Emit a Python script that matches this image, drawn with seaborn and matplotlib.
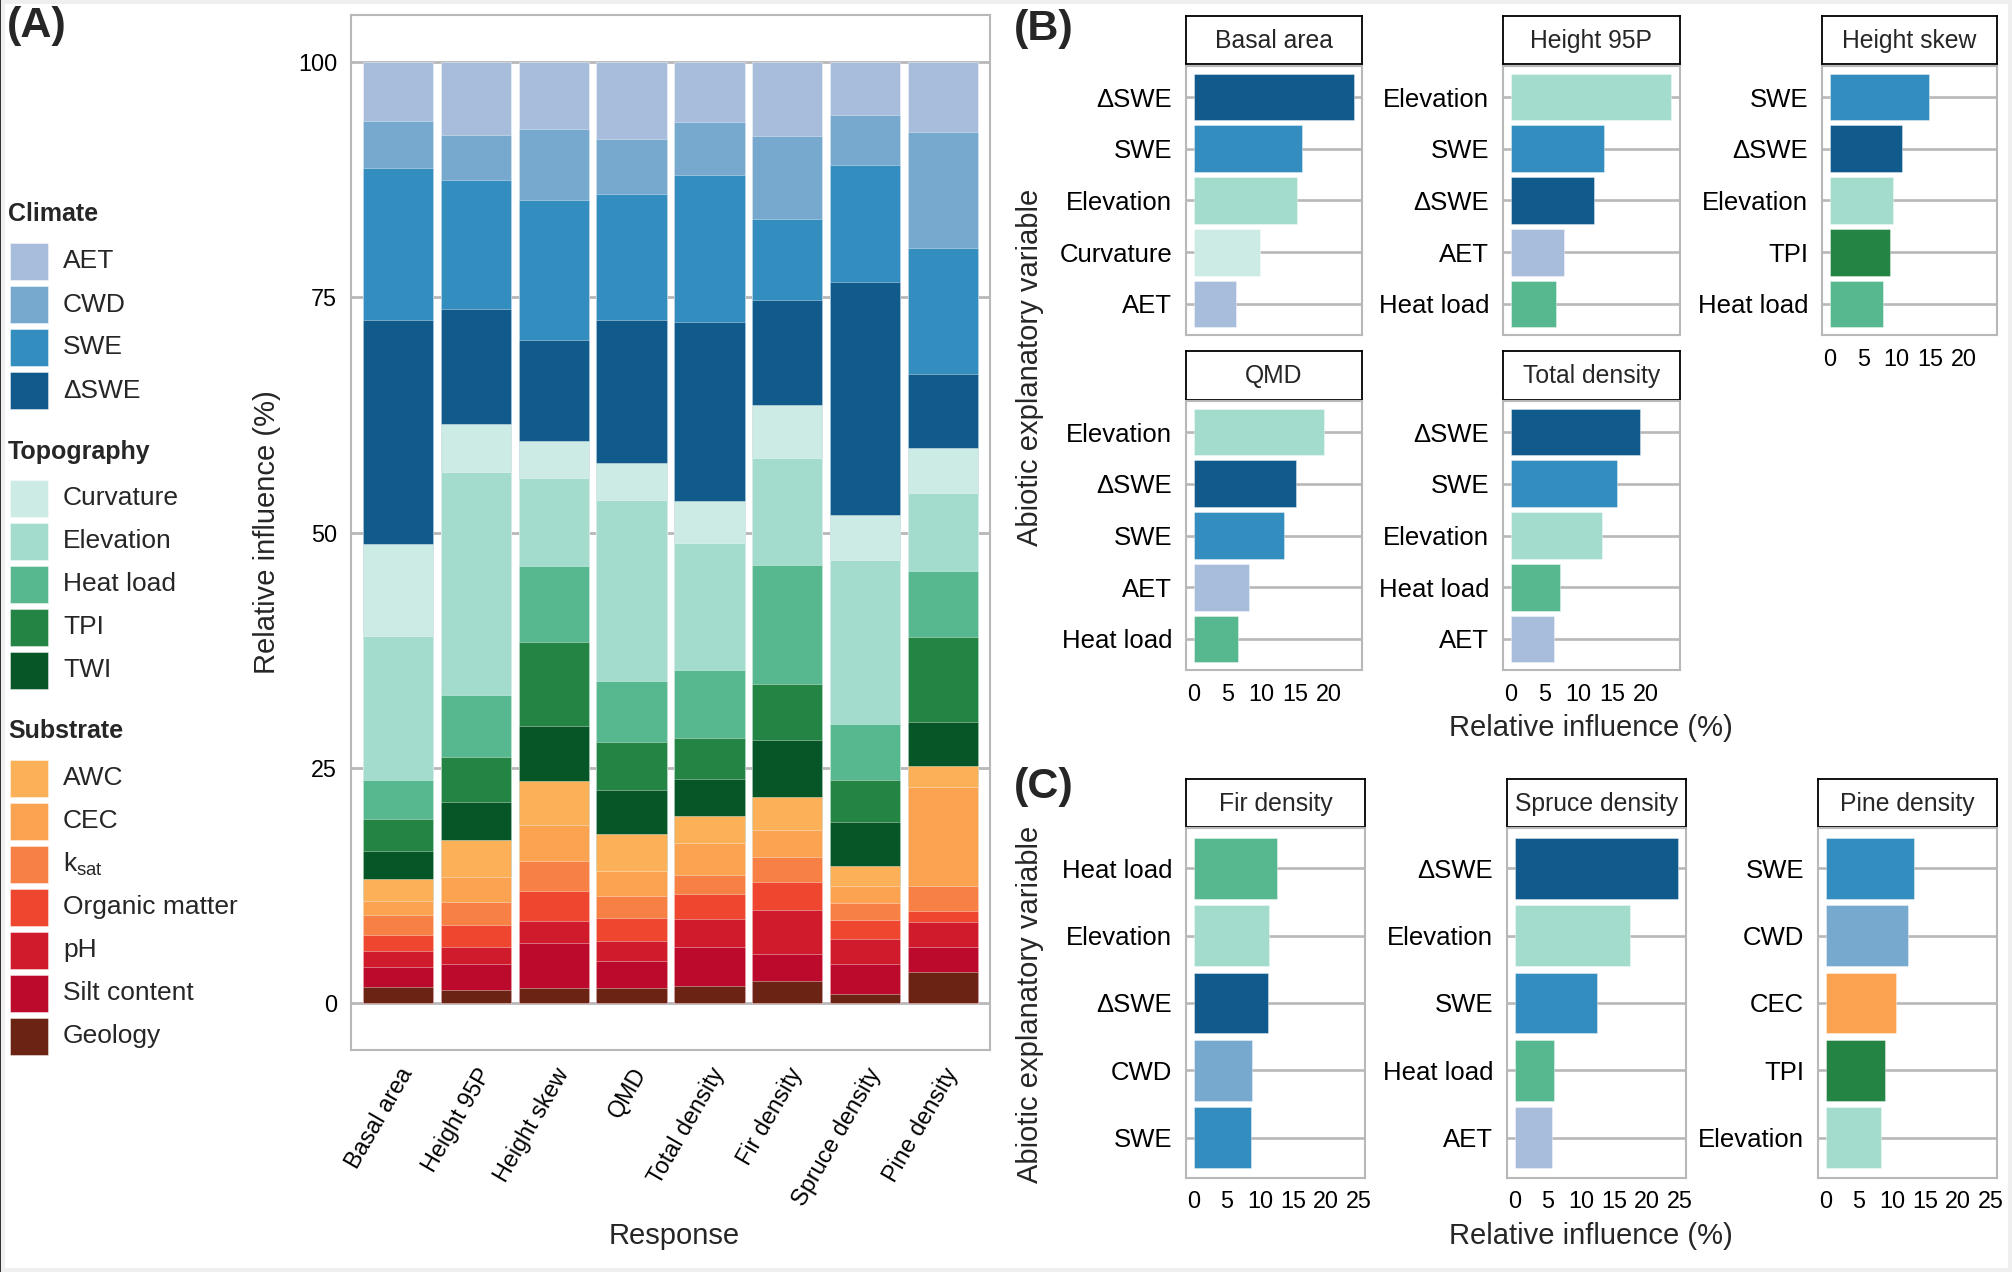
import numpy as np
import pandas as pd
import matplotlib
matplotlib.use("Agg")
import matplotlib.pyplot as plt
import seaborn as sns
from matplotlib.patches import Rectangle

# ---------------- data ----------------
responses = ["Basal area", "Height 95P", "Height skew", "QMD",
             "Total density", "Fir density", "Spruce density", "Pine density"]

variables = ["AET", "CWD", "SWE", "ΔSWE",
             "Curvature", "Elevation", "Heat load", "TPI", "TWI",
             "AWC", "CEC", "ksat", "Organic matter", "pH", "Silt content", "Geology"]
var_labels = {"ksat": r"k$_{\mathrm{sat}}$"}
groups = {"Climate": ["AET", "CWD", "SWE", "ΔSWE"],
          "Topography": ["Curvature", "Elevation", "Heat load", "TPI", "TWI"],
          "Substrate": ["AWC", "CEC", "ksat", "Organic matter", "pH", "Silt content", "Geology"]}
colors = ["#a8bddb", "#76a9cd", "#338dbe", "#105b8c",
          "#cdebe5", "#a3dbcd", "#57b88f", "#238443", "#075628",
          "#fcb058", "#fba350", "#f78144", "#ee462f", "#cf1b2b", "#bb0a2c", "#6b2414"]

# relative influence (%) of each variable, one value per response (same order as responses)
aet       = [6.3, 7.8, 7.1, 8.2, 6.4, 7.9, 5.6, 7.4]
cwd       = [5.0, 4.7, 7.6, 5.8, 5.6, 8.8, 5.3, 12.4]
swe       = [16.1, 13.7, 14.8, 13.4, 15.6, 8.6, 12.5, 13.4]
dswe      = [23.8, 12.3, 10.8, 15.2, 19.1, 11.2, 24.7, 7.8]
curvature = [9.8, 5.1, 3.9, 3.9, 4.4, 5.6, 4.8, 4.8]
elevation = [15.3, 23.7, 9.4, 19.3, 13.5, 11.4, 17.5, 8.3]
heat_load = [4.2, 6.6, 8.0, 6.5, 7.2, 12.6, 5.9, 7.0]
tpi       = [3.4, 4.7, 9.0, 5.1, 4.4, 6.0, 4.5, 9.0]
twi       = [2.9, 4.1, 5.8, 4.6, 3.9, 6.0, 4.6, 4.7]
awc       = [2.4, 3.9, 4.7, 4.0, 2.9, 3.5, 2.2, 2.2]
cec       = [1.5, 2.7, 3.8, 2.6, 3.4, 2.9, 1.8, 10.6]
ksat      = [2.1, 2.4, 3.2, 2.4, 2.0, 2.6, 1.8, 2.6]
organic   = [1.7, 2.3, 3.2, 2.4, 2.7, 3.0, 2.0, 1.2]
ph        = [1.7, 1.9, 2.3, 2.1, 2.9, 4.7, 2.7, 2.6]
silt      = [2.1, 2.7, 4.8, 2.9, 4.2, 2.9, 3.1, 2.7]
geology   = [1.7, 1.4, 1.6, 1.6, 1.8, 2.3, 1.0, 3.3]

series = [aet, cwd, swe, dswe, curvature, elevation, heat_load, tpi, twi,
          awc, cec, ksat, organic, ph, silt, geology]

panel_b = ["Basal area", "Height 95P", "Height skew", "QMD", "Total density"]
panel_c = ["Fir density", "Spruce density", "Pine density"]

wide = pd.DataFrame(dict(zip(variables, series)), index=responses)
long = wide.reset_index(names="Response").melt(id_vars="Response",
                                               var_name="Variable", value_name="value")
palette = dict(zip(variables, colors))

# ---------------- style ----------------
sns.set_style("white")
plt.rcParams["font.family"] = ["Liberation Sans", "DejaVu Sans"]
plt.rcParams["mathtext.fontset"] = "custom"
plt.rcParams["mathtext.rm"] = "Liberation Sans"
plt.rcParams["mathtext.it"] = "Liberation Sans:italic"

GRID = "#b8b8b8"
W, H = 2012, 1272
fig = plt.figure(figsize=(W / 100, H / 100), dpi=100, facecolor="#efefef")

ov = fig.add_axes([0, 0, 1, 1])
ov.set_xlim(0, W)
ov.set_ylim(H, 0)
ov.axis("off")
ov.add_patch(Rectangle((5, 4), 2003, 1264, facecolor="white", edgecolor="none"))
ov.add_patch(Rectangle((0, 0), 1.5, H, facecolor="#333333", edgecolor="none"))


def px_axes(x0, y0, x1, y1):
    return fig.add_axes([x0 / W, 1 - y1 / H, (x1 - x0) / W, (y1 - y0) / H])


def style_spines(ax, color=GRID, lw=1.5):
    for s in ax.spines.values():
        s.set_visible(True)
        s.set_color(color)
        s.set_linewidth(lw)


# ---------------- panel A ----------------
axA = px_axes(351, 15, 990, 1050)
axA.set_axisbelow(True)
axA.grid(axis="y", color=GRID, lw=2.0)
axA.grid(axis="x", visible=False)
cum = wide[variables[::-1]].cumsum(axis=1)  # bottom-up cumulative
for var in variables:  # draw tallest (top segment) first, overlay lower ones
    dfc = pd.DataFrame({"Response": responses, "top": cum[var].values})
    sns.barplot(data=dfc, x="Response", y="top", order=responses, color=palette[var],
                saturation=1, width=0.9, edgecolor=(1, 1, 1, 0.45), linewidth=0.6,
                ax=axA, errorbar=None)
axA.set_xlim(-0.6, 7.6)
axA.set_ylim(-5, 105)
axA.set_yticks([0, 25, 50, 75, 100])
axA.tick_params(axis="both", colors=GRID, labelcolor="black", labelsize=16.8,
                length=6.5, width=1.5)
axA.set_xticks(range(len(responses)))
axA.set_xticklabels(responses, rotation=60, ha="right", va="top", rotation_mode="anchor")
style_spines(axA)
axA.set_ylabel("Relative influence (%)", fontsize=21, va="center", ha="center")
axA.yaxis.set_label_coords((267 - 351) / 639, 0.5)
axA.set_xlabel("Response", fontsize=21, va="center", ha="center")
axA.xaxis.set_label_coords(0.505, (1050 - 1236) / 1035)

# legend for panel A
ov.text(7, 26, "(A)", fontsize=31, fontweight="bold", ha="left", va="center")
heads_y = {"Climate": 214, "Topography": 452, "Substrate": 731}
items_y = {"Climate": [261.5, 304.5, 347.5, 390.5],
           "Topography": [498, 541, 584, 627, 670],
           "Substrate": [778, 821, 864, 907, 950, 993, 1036]}
for g, vs in groups.items():
    ov.text(8, heads_y[g], g, fontsize=18, fontweight="bold", ha="left", va="center")
    for v, yy in zip(vs, items_y[g]):
        ov.add_patch(Rectangle((10, yy - 18.5), 38, 37, facecolor=palette[v],
                               edgecolor=(1, 1, 1, 0.5), lw=0.6))
        ov.text(63, yy, var_labels.get(v, v), fontsize=19, ha="left", va="center")


# ---------------- panels B and C ----------------
def facet(resp, x0, x1, sy0, sy1, py0, py1, xmax, xticks, show_x):
    st = px_axes(x0, sy0, x1, sy1)
    st.set_xticks([])
    st.set_yticks([])
    style_spines(st, color="black", lw=1.3)
    st.text(0.5, 0.48, resp, ha="center", va="center", fontsize=17.8, transform=st.transAxes)

    ax = px_axes(x0, py0, x1, py1)
    sub = long[long.Response == resp].nlargest(5, "value")
    order = list(sub.Variable)
    ax.set_axisbelow(True)
    sns.barplot(data=sub, y="Variable", x="value", hue="Variable", order=order,
                hue_order=order, palette=palette, orient="h", width=0.9, saturation=1,
                legend=False, edgecolor=(1, 1, 1, 0.45), linewidth=0.6, ax=ax,
                errorbar=None)
    ax.grid(axis="y", color=GRID, lw=1.9)
    ax.grid(axis="x", visible=False)
    ax.set_ylim(4.6, -0.6)
    ax.set_xlim(-0.05 * xmax, 1.05 * xmax)
    ax.set_yticks(range(5))
    ax.set_yticklabels([var_labels.get(v, v) for v in order])
    ax.set_xticks(xticks)
    ax.tick_params(axis="y", colors=GRID, labelcolor="black", labelsize=18.5,
                   length=5, width=1.5, pad=5)
    ax.tick_params(axis="x", colors=GRID, labelcolor="black", labelsize=16.8,
                   length=5, width=1.5, pad=4)
    if not show_x:
        ax.tick_params(axis="x", length=0, labelbottom=False)
    ax.set_xlabel("")
    ax.set_ylabel("")
    style_spines(ax)
    return ax


maxB = long[long.Response.isin(panel_b)].value.max()
maxC = long[long.Response.isin(panel_c)].value.max()
ticksB = [0, 5, 10, 15, 20]
ticksC = [0, 5, 10, 15, 20, 25]

colsB = [(1186, 1362), (1503, 1680), (1822, 1997)]
rowsB = [((16, 64), (66, 335)), ((351, 400), (401, 670))]
axesB = {}
for i, resp in enumerate(panel_b):
    r, c = divmod(i, 3)
    (sy0, sy1), (py0, py1) = rowsB[r]
    x0, x1 = colsB[c]
    show_x = (r == 1) or (c == 2)
    axesB[resp] = facet(resp, x0, x1, sy0, sy1, py0, py1, maxB, ticksB, show_x)

colsC = [(1186, 1365), (1507, 1686), (1818, 1997)]
axesC = {}
for i, resp in enumerate(panel_c):
    x0, x1 = colsC[i]
    axesC[resp] = facet(resp, x0, x1, 779, 827, 828, 1178, maxC, ticksC, True)

# titles for B / C
aB = axesB["Basal area"]
aB.set_ylabel("Abiotic explanatory variable", fontsize=21, va="center", ha="center")
aB.yaxis.set_label_coords((1030 - 1186) / 176, (335 - 367) / 269)
aB2 = axesB["Total density"]
aB2.set_xlabel("Relative influence (%)", fontsize=21, va="center", ha="center")
aB2.xaxis.set_label_coords((1591 - 1503) / 177, (670 - 728) / 269)

aC = axesC["Fir density"]
aC.set_ylabel("Abiotic explanatory variable", fontsize=21, va="center", ha="center")
aC.yaxis.set_label_coords((1030 - 1186) / 179, (1178 - 1004) / 350)
aC2 = axesC["Spruce density"]
aC2.set_xlabel("Relative influence (%)", fontsize=21, va="center", ha="center")
aC2.xaxis.set_label_coords((1591 - 1507) / 179, (1178 - 1236) / 350)

ov.text(1014, 29, "(B)", fontsize=31, fontweight="bold", ha="left", va="center")
ov.text(1014, 787, "(C)", fontsize=31, fontweight="bold", ha="left", va="center")

fig.savefig("out.png", dpi=100, facecolor=fig.get_facecolor())
